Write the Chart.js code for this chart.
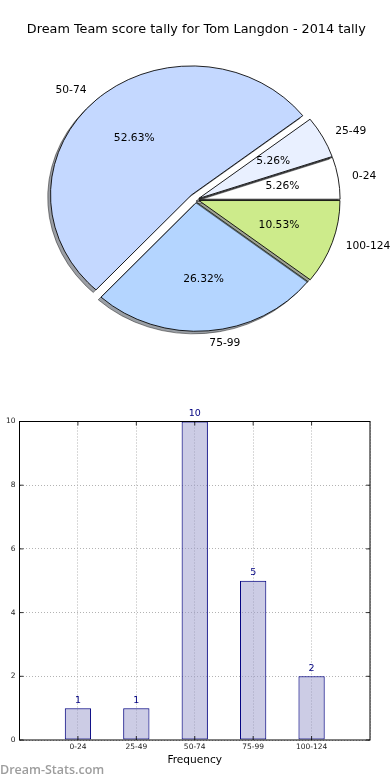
<!DOCTYPE html>
<html>
<head>
<meta charset="utf-8">
<script src="https://cdn.jsdelivr.net/npm/chart.js@4.4.1/dist/chart.umd.min.js"></script>
<style>
  body { margin: 0; background: #fff; width: 390px; height: 780px; overflow: hidden; position: relative; }
  #pie { position: absolute; left: 0; top: 0; }
  #bars { position: absolute; left: 0; top: 380px; }
  .mark { position: absolute; left: 0; top: 761px; font: 600 12.5px "Open Sans", sans-serif; color: #9d9d9d; }
</style>
</head>
<body>
<canvas id="pie" width="390" height="380"></canvas>
<canvas id="bars" width="390" height="400"></canvas>
<div class="mark">Dream-Stats.com</div>
<script>
const categories = ['0-24', '25-49', '50-74', '75-99', '100-124'];
const counts = [1, 1, 10, 5, 2];
const sliceColors = ['#ffffff', '#e9f0ff', '#c4d8ff', '#b4d5ff', '#cdeb8b'];
const explode = [0.02, 0.02, 0.05, 0.02, 0.02]; // fraction of the radius, like matplotlib
const yTicks = [0, 2, 4, 6, 8, 10];

const total = counts.reduce((a, b) => a + b, 0);
const pieRadius = 141;
const squash = 129 / 141; // the original pie is an ellipse
const shadowShift = [-2.8, 2.6];
const font = 'DejaVu Sans';

// flip y so slices run counter-clockwise from 3 o'clock, squash to an ellipse,
// then push the slice out along its middle angle
function placeArc(ctx, arc, i) {
  const mid = (arc.startAngle + arc.endAngle) / 2;
  const d = explode[i] * arc.outerRadius;
  ctx.translate(arc.x, arc.y);
  ctx.scale(1, -squash);
  ctx.translate(-arc.x, -arc.y);
  ctx.translate(Math.cos(mid) * d, Math.sin(mid) * d);
}

const ellipsePie = {
  id: 'ellipsePie',
  beforeDatasetsDraw(chart) {
    const ctx = chart.ctx;
    chart.getDatasetMeta(0).data.forEach((arc, i) => {
      // shadow first, like matplotlib's shadow=True
      ctx.save();
      ctx.translate(shadowShift[0], shadowShift[1]);
      placeArc(ctx, arc, i);
      ctx.filter = 'brightness(0.3)';
      ctx.globalAlpha = 0.5;
      arc.draw(ctx);
      ctx.restore();

      ctx.save();
      placeArc(ctx, arc, i);
      arc.draw(ctx);
      ctx.restore();
    });
    return false;
  },
  afterDraw(chart) {
    const ctx = chart.ctx;
    const arcs = chart.getDatasetMeta(0).data;
    ctx.save();
    ctx.font = '10.7px "' + font + '"';
    ctx.fillStyle = '#000';
    ctx.textBaseline = 'middle';
    arcs.forEach((arc, i) => {
      const mid = (arc.startAngle + arc.endAngle) / 2;
      const R = arc.outerRadius;
      const at = k => [arc.x + k * R * Math.cos(mid), arc.y - squash * k * R * Math.sin(mid)];
      const [lx, ly] = at(explode[i] + 1.1);
      ctx.textAlign = Math.cos(mid) > 0 ? 'left' : 'right';
      ctx.fillText(categories[i], lx, ly);
      const [px, py] = at(explode[i] + 0.6);
      ctx.textAlign = 'center';
      ctx.fillText((counts[i] / total * 100).toFixed(2) + '%', px, py);
    });
    ctx.restore();
  },
};

new Chart(document.getElementById('pie'), {
  type: 'pie',
  data: {
    labels: categories,
    datasets: [{
      data: counts,
      backgroundColor: sliceColors,
      borderColor: '#000',
      borderWidth: 0.9,
      clip: false,
    }],
  },
  options: {
    responsive: false,
    animation: false,
    events: [],
    radius: pieRadius,
    rotation: 90,
    layout: { padding: { left: 2.6, right: 0, top: 0, bottom: 28 } },
    plugins: {
      legend: { display: false },
      tooltip: { enabled: false },
      title: {
        display: true,
        text: 'Dream Team score tally for Tom Langdon - 2014 tally',
        color: '#000',
        font: { family: font, size: 12.8, weight: 'normal' },
        padding: { top: 22, bottom: 10 },
      },
    },
  },
  plugins: [ellipsePie],
});

const frame = {
  id: 'frame',
  afterDatasetsDraw(chart) {
    const { ctx, chartArea: a, scales } = chart;
    ctx.save();
    ctx.strokeStyle = '#000';
    ctx.lineWidth = 1;
    ctx.strokeRect(a.left, a.top, a.right - a.left, a.bottom - a.top);
    ctx.lineWidth = 0.8;
    ctx.beginPath();
    yTicks.forEach(v => {
      const y = scales.y.getPixelForValue(v);
      ctx.moveTo(a.left, y); ctx.lineTo(a.left + 4, y);
      ctx.moveTo(a.right, y); ctx.lineTo(a.right - 4, y);
    });
    categories.forEach((c, i) => {
      const x = scales.x.getPixelForValue(i);
      ctx.moveTo(x, a.bottom); ctx.lineTo(x, a.bottom - 4);
      ctx.moveTo(x, a.top); ctx.lineTo(x, a.top + 4);
    });
    ctx.stroke();
    // counts above the bars
    ctx.font = '9.5px "' + font + '"';
    ctx.fillStyle = '#000080';
    ctx.textAlign = 'center';
    ctx.textBaseline = 'bottom';
    chart.getDatasetMeta(0).data.forEach((bar, i) => {
      ctx.fillText(String(counts[i]), bar.x, bar.y - 3);
    });
    ctx.restore();
  },
};

const gridStyle = { color: '#b3b3b3', lineWidth: 1, drawTicks: false, offset: false };
const tickFont = { family: font, size: 7.5 };

new Chart(document.getElementById('bars'), {
  type: 'bar',
  data: {
    datasets: [{
      data: counts.map((v, i) => ({ x: i, y: v })),
      backgroundColor: 'rgba(153,153,204,0.5)',
      borderColor: '#000080',
      borderWidth: 1,
      borderSkipped: false,
      barPercentage: 0.45,
      categoryPercentage: 1,
    }],
  },
  options: {
    responsive: false,
    animation: false,
    events: [],
    layout: { padding: { top: 41.5, right: 20, left: 0, bottom: 0 } },
    plugins: { legend: { display: false }, tooltip: { enabled: false } },
    scales: {
      x: {
        type: 'linear',
        min: -1,
        max: 5,
        offset: false,
        grid: gridStyle,
        border: { display: false, dash: [1, 2] },
        ticks: {
          stepSize: 1, autoSkip: false, maxRotation: 0, padding: 3,
          color: '#222', font: tickFont,
          callback: v => categories[v] ?? '',
        },
        title: {
          display: true, text: 'Frequency', color: '#000',
          font: { family: font, size: 10.6 }, padding: { top: 0, bottom: 13 },
        },
        afterFit: s => { s.height = 40; },
      },
      y: {
        min: 0,
        max: 10,
        grid: gridStyle,
        border: { display: false, dash: [1, 2] },
        ticks: { padding: 4, color: '#222', font: tickFont },
        afterBuildTicks: s => { s.ticks = yTicks.map(value => ({ value })); },
        afterFit: s => { s.width = 19.5; },
      },
    },
  },
  plugins: [frame],
});
</script>
</body>
</html>
